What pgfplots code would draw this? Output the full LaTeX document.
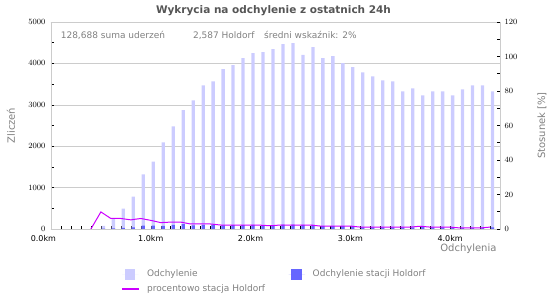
\documentclass[border=0pt]{standalone}
\usepackage{fontspec}
\setmainfont{DejaVu Sans}
\usepackage{pgfplots}
\pgfplotsset{compat=1.18}
\usepackage{pgfplotstable}
\definecolor{lightbar}{HTML}{CCCCFF}
\definecolor{darkbar}{HTML}{6666FF}
\definecolor{linec}{HTML}{CC00FF}
\definecolor{txtgray}{HTML}{808080}
\definecolor{titlegray}{HTML}{555555}
\definecolor{framegray}{HTML}{CCCCCC}

\pgfplotstableread{
x total holdorf
0.5 75 7
0.6 240 15
0.7 493 30
0.8 784 42
0.9 1318 80
1.0 1626 81
1.1 2095 78
1.2 2476 99
1.3 2871 115
1.4 3107 90
1.5 3471 101
1.6 3568 103
1.7 3859 89
1.8 3956 91
1.9 4126 95
2.0 4248 98
2.1 4272 94
2.2 4345 83
2.3 4466 103
2.4 4490 103
2.5 4206 97
2.6 4393 101
2.7 4126 70
2.8 4175 71
2.9 4005 68
3.0 3908 66
3.1 3786 42
3.2 3689 41
3.3 3592 40
3.4 3568 39
3.5 3325 37
3.6 3398 37
3.7 3228 52
3.8 3325 37
3.9 3325 37
4.0 3228 36
4.1 3374 20
4.2 3471 21
4.3 3471 21
4.4 3325 37
}\bars

\pgfplotstableread{
x pct
0.4 0
0.5 9.9
0.6 6.1
0.7 6.1
0.8 5.3
0.9 6.1
1.0 5.0
1.1 3.7
1.2 4.0
1.3 4.0
1.4 2.9
1.5 2.9
1.6 2.9
1.7 2.3
1.8 2.3
1.9 2.3
2.0 2.3
2.1 2.2
2.2 1.9
2.3 2.3
2.4 2.3
2.5 2.3
2.6 2.3
2.7 1.7
2.8 1.7
2.9 1.7
3.0 1.7
3.1 1.1
3.2 1.1
3.3 1.1
3.4 1.1
3.5 1.1
3.6 1.1
3.7 1.6
3.8 1.1
3.9 1.1
4.0 1.1
4.1 0.6
4.2 0.6
4.3 0.6
4.4 1.1
}\pct

\begin{document}
\begin{tikzpicture}
\path[use as bounding box] (-51pt,-71pt) rectangle (499pt,229pt);
\begin{axis}[
  scale only axis, width=449pt, height=207pt,
  xmin=0, xmax=4.5, ymin=0, ymax=5000,
  axis line style={draw=framegray},
  xtick={0,1,2,3,4},
  xticklabels={\makebox[10pt][r]{0.0km},1.0km,2.0km,3.0km,4.0km},
  minor xtick={0.1,0.2,...,4.45},
  ytick={0,1000,...,5000},
  minor ytick={500,1500,2500,3500,4500},
  xtick pos=bottom, ytick pos=left,
  tick align=inside,
  major tick length=3pt, minor tick length=3pt,
  tick style={black, line width=0.5pt},
  ymajorgrids, grid style={framegray, line width=0.5pt},
  scaled y ticks=false,
  yticklabel style={/pgf/number format/1000 sep={}, xshift=-2pt},
  xticklabel style={yshift=-3pt},
  tick label style={font=\fontsize{8}{9}\selectfont, black},
  title={Wykrycia na odchylenie z ostatnich 24h},
  every axis title/.style={at={(rel axis cs:0.4955,1)}, anchor=base, yshift=8.5pt, font=\bfseries\fontsize{10.5}{12}\selectfont, text=titlegray},
  xlabel={Odchylenia},
  every axis x label/.style={at={(rel axis cs:1,0)}, anchor=base east, yshift=-22.4pt, font=\fontsize{10}{12}\selectfont, text=txtgray},
  ylabel={Zliczeń},
  every axis y label/.style={at={(rel axis cs:0,0.5)}, xshift=-40pt, rotate=90, anchor=center, font=\fontsize{10}{12}\selectfont, text=txtgray},
  legend columns=2,
  legend cell align=left,
  legend style={at={(rel axis cs:0.156,-0.188)}, anchor=north west, draw=none, fill=none, inner sep=0pt,
    font=\fontsize{9}{11}\selectfont, text=txtgray, row sep=2.5pt,
    /tikz/every odd column/.style={column sep=5.5pt},
    /tikz/every even column/.style={column sep=21.6pt}},
]
\addplot[ybar, bar width=3.3pt, bar shift=2.5pt, fill=lightbar, draw=none,
  legend image code/.code={\path (-2.4pt,0pt) -- (14.1pt,0pt); \fill[lightbar] (0pt,-5.25pt) rectangle (10.5pt,5.25pt);}]
  table[x=x, y=total] {\bars};
\addlegendentry{Odchylenie}
\addplot[ybar, bar width=3.3pt, bar shift=2.5pt, fill=darkbar, draw=none,
  legend image code/.code={\path (-2.4pt,0pt) -- (14.1pt,0pt); \fill[darkbar] (0pt,-5.25pt) rectangle (10.5pt,5.25pt);}]
  table[x=x, y=holdorf] {\bars};
\addlegendentry{Odchylenie stacji Holdorf}
\addlegendimage{legend image code/.code={\draw[linec, line width=1.8pt] (-2.4pt,0pt) -- (14.1pt,0pt);}}
\addlegendentry{procentowo stacja Holdorf}
\node[anchor=base west, inner sep=0pt, text=txtgray, font=\fontsize{9}{11}\selectfont] at ([yshift=-16pt]rel axis cs:0.0214,1) {128,688 suma uderzeń};
\node[anchor=base west, inner sep=0pt, text=txtgray, font=\fontsize{9}{11}\selectfont] at ([yshift=-16pt]rel axis cs:0.316,1) {2,587 Holdorf};
\node[anchor=base west, inner sep=0pt, text=txtgray, font=\fontsize{9}{11}\selectfont] at ([yshift=-16pt]rel axis cs:0.4744,1) {średni wskaźnik: 2\%};
\end{axis}
\begin{axis}[
  scale only axis, width=449pt, height=207pt,
  xmin=0, xmax=4.5, ymin=0, ymax=120,
  axis x line=none,
  axis y line*=right,
  axis line style={draw=framegray, -},
  ytick={0,20,...,120},
  minor ytick={10,30,...,110},
  tick align=inside,
  major tick length=3pt, minor tick length=3pt,
  tick style={black, line width=0.5pt},
  tick label style={font=\fontsize{8}{9}\selectfont, black},
  yticklabel style={xshift=1pt},
  ylabel={Stosunek [\%]},
  every axis y label/.style={at={(rel axis cs:1,0.5)}, xshift=42pt, rotate=90, anchor=center, font=\fontsize{10}{12}\selectfont, text=txtgray},
]
\addplot[linec, line width=1pt, mark=none] table[x=x, y=pct] {\pct};
\end{axis}
\end{tikzpicture}
\end{document}
